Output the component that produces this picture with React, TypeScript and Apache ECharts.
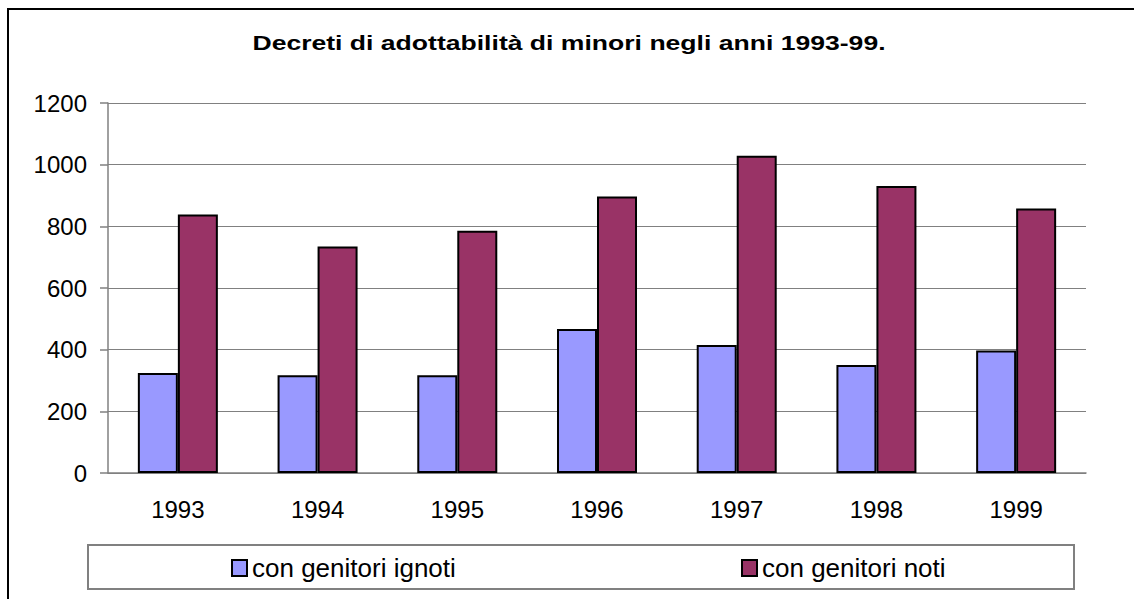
import React, { useEffect, useRef } from "react";
import * as echarts from "echarts";

const categories = ["1993", "1994", "1995", "1996", "1997", "1998", "1999"];
const ignoti = [324, 317, 317, 467, 415, 350, 397];
const noti = [838, 735, 786, 897, 1029, 931, 858];
const seriesNames = ["con genitori ignoti", "con genitori noti"];
const titleText = "Decreti di adottabilità di minori negli anni 1993-99.";

const FONT = "Liberation Sans, Arial, sans-serif";

export default function App() {
  const ref = useRef<HTMLDivElement>(null);
  useEffect(() => {
    if (!ref.current) return;
    const chart = echarts.init(ref.current, undefined, { renderer: "svg" });
    const legendBase = {
      top: 555,
      padding: 0,
      itemWidth: 15,
      itemHeight: 16,
      icon: "rect",
      textStyle: { fontFamily: FONT, fontSize: 26, color: "#000" },
      itemStyle: { borderColor: "#000", borderWidth: 2 },
    };
    chart.setOption({
      animation: false,
      backgroundColor: "#ffffff",
      grid: { left: 108, right: 48, top: 103, bottom: 126, containLabel: false },
      legend: [
        { ...legendBase, data: [seriesNames[0]], left: 231 },
        { ...legendBase, data: [seriesNames[1]], left: 741 },
      ],
      xAxis: {
        type: "category",
        data: categories,
        axisLine: { lineStyle: { color: "#808080", width: 1.5 } },
        axisTick: { length: 8, lineStyle: { color: "#808080", width: 1.5 } },
        axisLabel: { margin: 24, fontFamily: FONT, fontSize: 24, color: "#000" },
      },
      yAxis: {
        type: "value",
        min: 0,
        max: 1200,
        interval: 200,
        axisLine: { show: true, lineStyle: { color: "#808080", width: 1.5 } },
        axisTick: { show: true, length: 8, lineStyle: { color: "#808080", width: 1.5 } },
        axisLabel: {
          margin: 21,
          fontFamily: FONT,
          fontSize: 24,
          color: "#000",
          formatter: (v: number) => String(v),
        },
        splitLine: { lineStyle: { color: "#808080", width: 1 } },
      },
      series: [
        {
          name: seriesNames[0],
          type: "bar",
          data: ignoti,
          barWidth: 40,
          barGap: "0%",
          itemStyle: { color: "#9999ff", borderColor: "#000", borderWidth: 2 },
        },
        {
          name: seriesNames[1],
          type: "bar",
          data: noti,
          barWidth: 40,
          barGap: "0%",
          itemStyle: { color: "#993366", borderColor: "#000", borderWidth: 2 },
        },
      ],
      graphic: [
        {
          type: "rect",
          shape: { x: 8, y: 9, width: 1200, height: 700 },
          style: { fill: "none", stroke: "#000", lineWidth: 2 },
          silent: true,
        },
        {
          type: "rect",
          shape: { x: 88, y: 545, width: 986, height: 44 },
          style: { fill: "none", stroke: "#808080", lineWidth: 2 },
          silent: true,
        },
        {
          type: "text",
          x: 569,
          y: 43,
          scaleX: 1.265,
          silent: true,
          style: {
            text: titleText,
            fontFamily: FONT,
            fontSize: 21,
            fontWeight: "bold",
            fill: "#000",
            textAlign: "center",
            textVerticalAlign: "middle",
          },
        },
      ],
    });
    return () => chart.dispose();
  }, []);
  return (
    <div
      ref={ref}
      style={{ position: "fixed", left: 0, top: 0, width: 1134, height: 599 }}
    />
  );
}
